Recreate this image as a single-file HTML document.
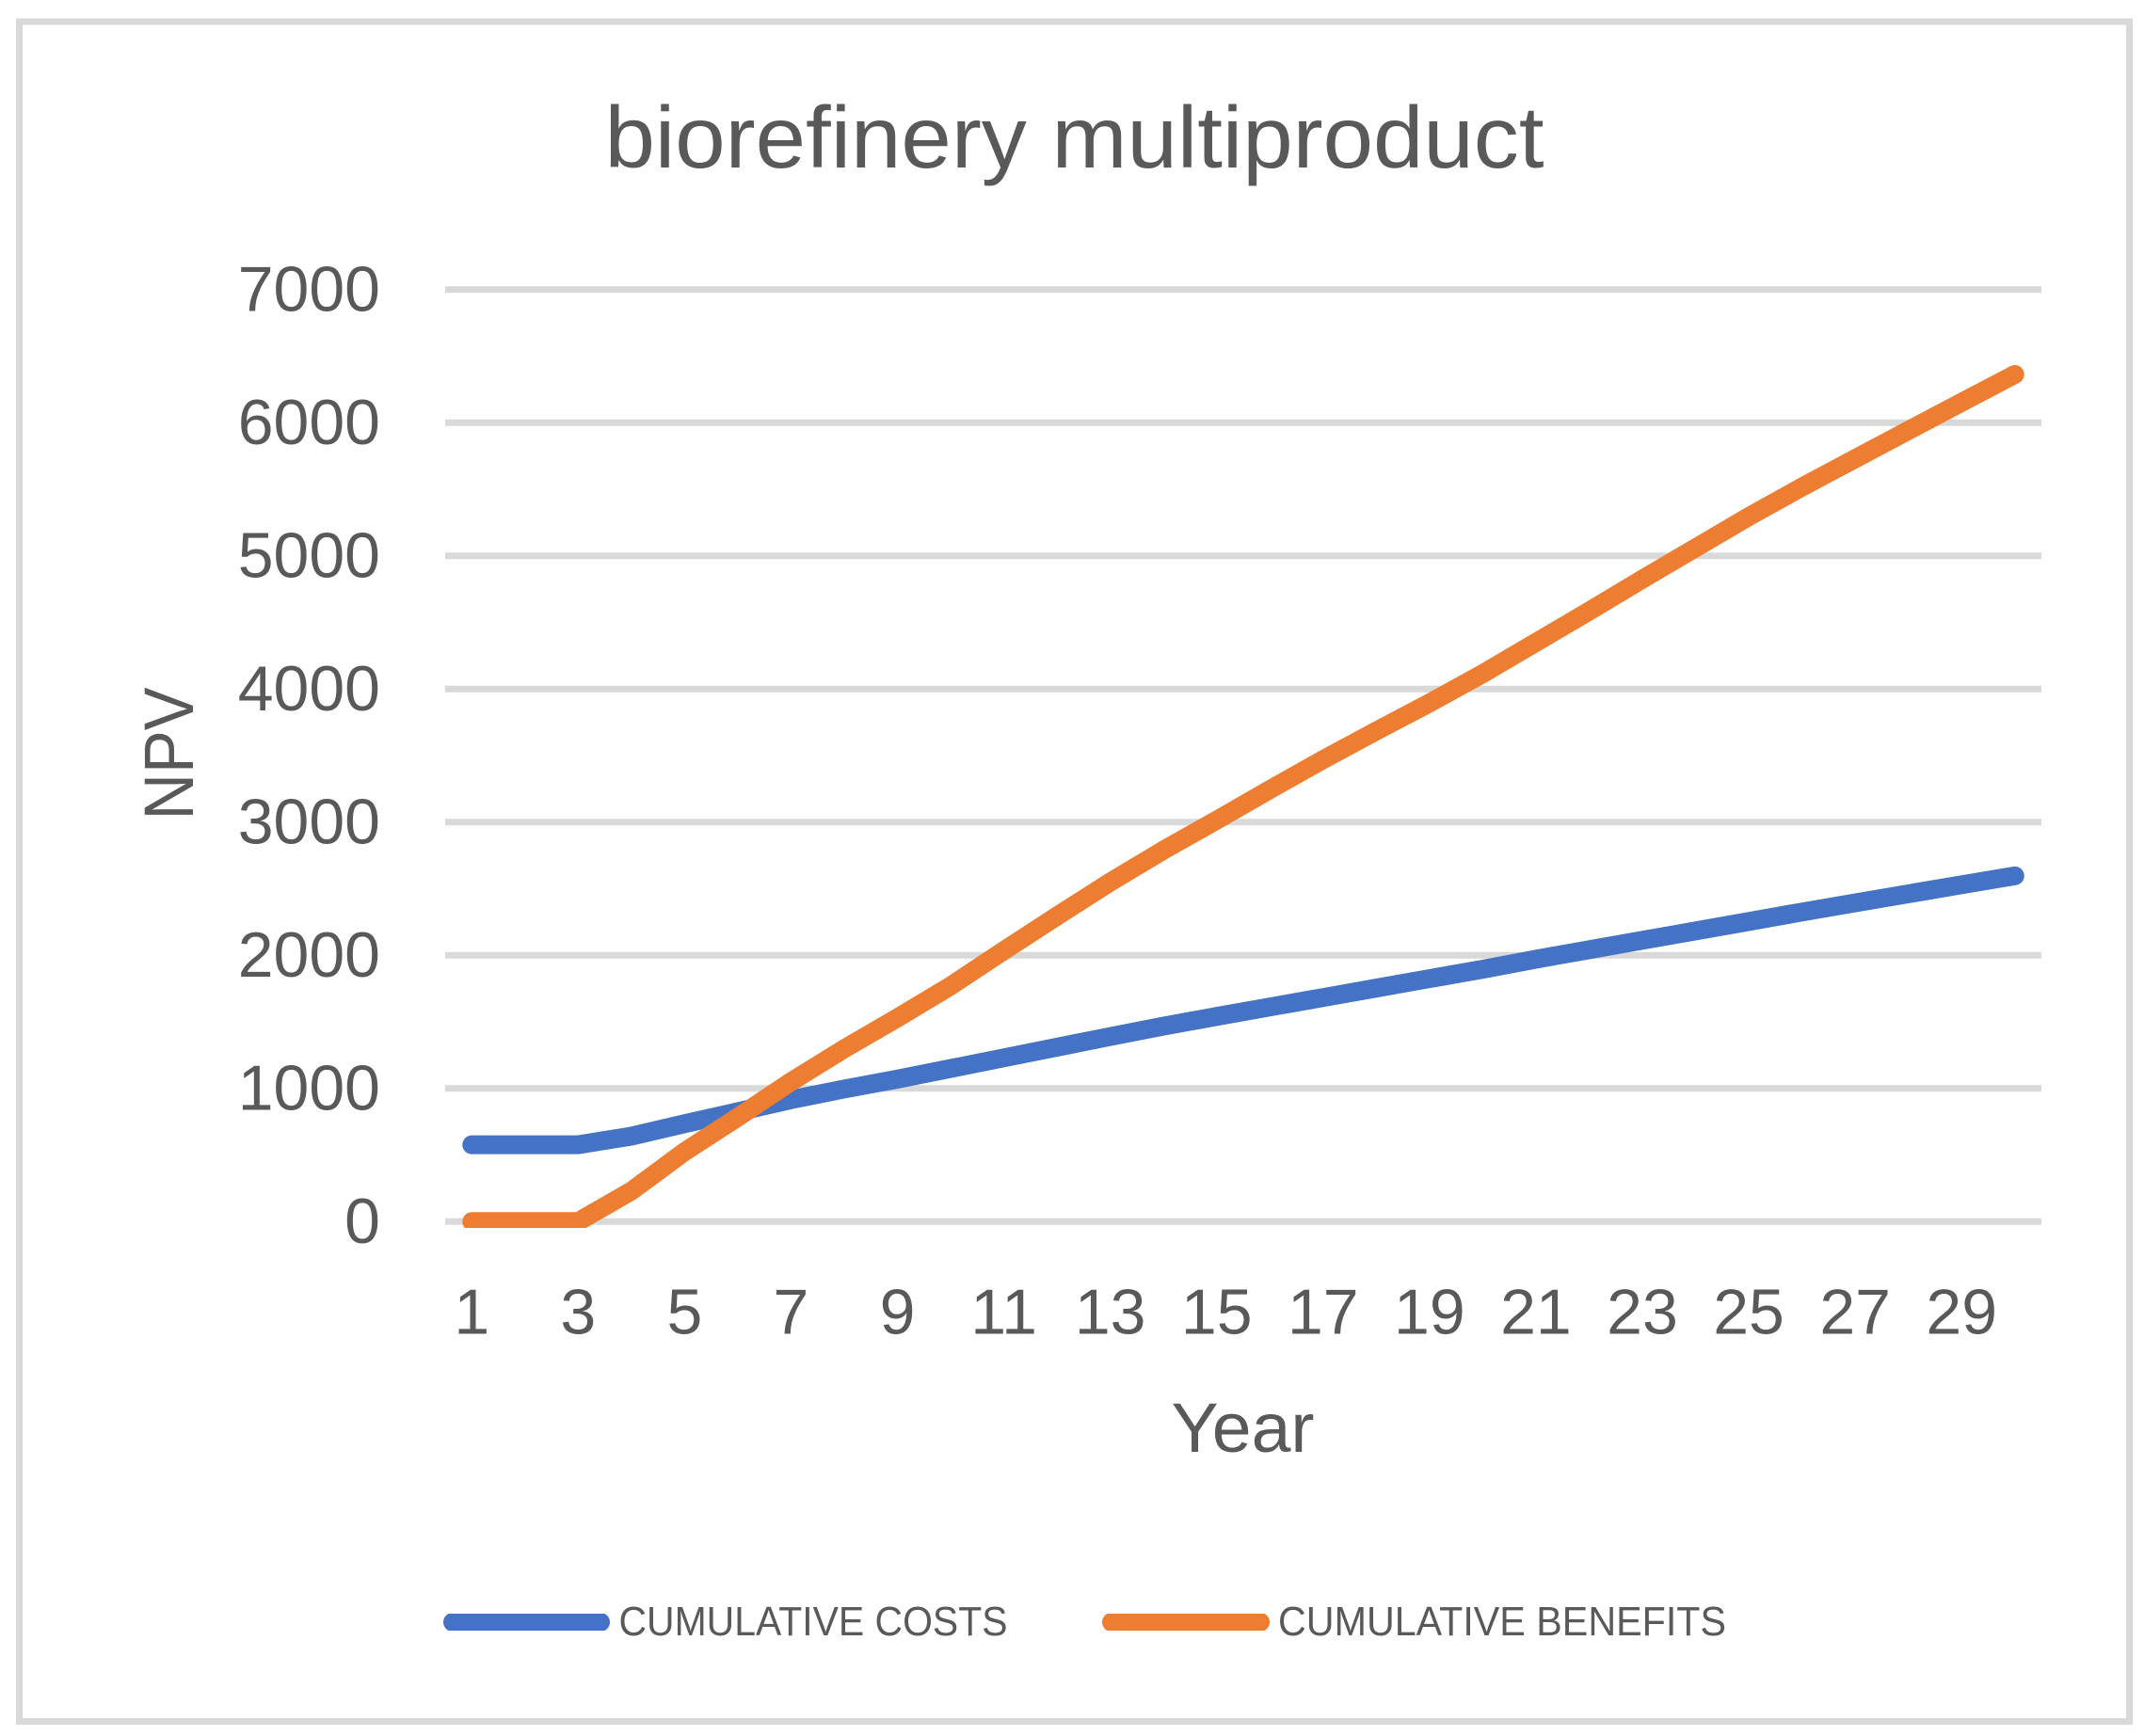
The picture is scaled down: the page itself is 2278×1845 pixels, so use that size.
<!DOCTYPE html>
<html lang="en">
<head>
<meta charset="utf-8">
<title>biorefinery multiproduct</title>
<style>
  html, body { margin: 0; padding: 0; background: #ffffff; }
  body { width: 2278px; height: 1845px; overflow: hidden; }
  svg { display: block; }
  text { font-family: "Liberation Sans", sans-serif; fill: #595959; }
</style>
</head>
<body>
<svg id="chart" xmlns="http://www.w3.org/2000/svg" width="2278" height="1845" viewBox="0 0 2278 1845">
  <defs>
    <clipPath id="plot-clip"><rect x="440" y="250" width="1760" height="1055"></rect></clipPath>
    <clipPath id="legend-clip"><rect x="440" y="1715" width="1000" height="18"></rect></clipPath>
  </defs>
  <rect x="20.5" y="23" width="2242" height="1806.5" fill="#ffffff" stroke="#d9d9d9" stroke-width="7"></rect>
  <text x="642.5" y="178" font-size="93" textLength="998" lengthAdjust="spacingAndGlyphs">biorefinery multiproduct</text>
  <g id="gridlines"></g>
  <g id="y-ticks"></g>
  <g id="x-ticks"></g>
  <g id="series" clip-path="url(#plot-clip)"></g>
  <text transform="translate(205 871.5) rotate(-90)" font-size="74" textLength="141" lengthAdjust="spacingAndGlyphs">NPV</text>
  <text x="1244.5" y="1543" font-size="74" textLength="152" lengthAdjust="spacingAndGlyphs">Year</text>
  <g>
    <g clip-path="url(#legend-clip)">
      <line x1="481" y1="1724" x2="638" y2="1724" stroke="#4472c4" stroke-width="20" stroke-linecap="round"></line>
      <line x1="1181" y1="1724" x2="1339" y2="1724" stroke="#ed7d31" stroke-width="20" stroke-linecap="round"></line>
    </g>
    <text x="657.5" y="1738" font-size="44" textLength="413" lengthAdjust="spacingAndGlyphs">CUMULATIVE COSTS</text>
    <text x="1358" y="1738" font-size="44" textLength="476" lengthAdjust="spacingAndGlyphs">CUMULATIVE BENEFITS</text>
  </g>
</svg>
<script>
const years = [1,2,3,4,5,6,7,8,9,10,11,12,13,14,15,16,17,18,19,20,21,22,23,24,25,26,27,28,29,30];
const cumulativeCosts = [577,577,577,642,735,825,916,996,1070,1150,1230,1310,1390,1468,1541,1612,1683,1754,1825,1895,1971,2042,2113,2183,2254,2325,2394,2462,2530,2597];
const cumulativeBenefits = [0,0,0,230,525,784,1051,1298,1530,1770,2035,2295,2550,2790,3015,3245,3470,3685,3895,4115,4350,4585,4825,5060,5295,5517,5730,5942,6153,6363];
const yTickLabels = [0,1000,2000,3000,4000,5000,6000,7000];
const xTickLabels = [1,3,5,7,9,11,13,15,17,19,21,23,25,27,29];

const SVG_NS = 'http://www.w3.org/2000/svg';
const plotLeft = 473;
const plotRight = 2169;
const plotBottom = 1298.3;
const plotTop = 307.8;
const yMax = 7000;

function xScale(year) {
  const band = (plotRight - plotLeft) / years.length;
  return plotLeft + band * (year - years[0] + 0.5);
}
function yScale(value) {
  return plotBottom - (value / yMax) * (plotBottom - plotTop);
}

const gridGroup = document.getElementById('gridlines');
const yTickGroup = document.getElementById('y-ticks');
const xTickGroup = document.getElementById('x-ticks');
const seriesGroup = document.getElementById('series');

yTickLabels.forEach(function (tick) {
  const grid = document.createElementNS(SVG_NS, 'line');
  
  
  grid.setAttribute('x1', plotLeft);
  grid.setAttribute('x2', plotRight);
  grid.setAttribute('y1', yScale(tick));
  grid.setAttribute('y2', yScale(tick));
  grid.setAttribute('stroke', '#d9d9d9');
  grid.setAttribute('stroke-width', 7);
  gridGroup.appendChild(grid);

  const label = document.createElementNS(SVG_NS, 'text');
  
  
  label.setAttribute('x', 404);
  label.setAttribute('y', yScale(tick) + 22.5);
  label.setAttribute('font-size', 68);
  label.setAttribute('text-anchor', 'end');
  label.textContent = String(tick);
  yTickGroup.appendChild(label);
});

xTickLabels.forEach(function (tick) {
  const label = document.createElementNS(SVG_NS, 'text');
  
  
  label.setAttribute('x', xScale(tick));
  label.setAttribute('y', 1417.5);
  label.setAttribute('font-size', 68);
  label.setAttribute('text-anchor', 'middle');
  label.textContent = String(tick);
  xTickGroup.appendChild(label);
});

function linePoints(values) {
  return values.map(function (value, i) {
    return xScale(years[i]).toFixed(2) + ',' + yScale(value).toFixed(2);
  }).join(' ');
}

const costsLine = document.createElementNS(SVG_NS, 'polyline');


costsLine.setAttribute('points', linePoints(cumulativeCosts));
costsLine.setAttribute('fill', 'none');
costsLine.setAttribute('stroke', '#4472c4');
costsLine.setAttribute('stroke-width', 20);
costsLine.setAttribute('stroke-linecap', 'round');
costsLine.setAttribute('stroke-linejoin', 'round');
seriesGroup.appendChild(costsLine);

const benefitsLine = document.createElementNS(SVG_NS, 'polyline');


benefitsLine.setAttribute('points', linePoints(cumulativeBenefits));
benefitsLine.setAttribute('fill', 'none');
benefitsLine.setAttribute('stroke', '#ed7d31');
benefitsLine.setAttribute('stroke-width', 20);
benefitsLine.setAttribute('stroke-linecap', 'round');
benefitsLine.setAttribute('stroke-linejoin', 'round');
seriesGroup.appendChild(benefitsLine);
</script>
</body>
</html>
